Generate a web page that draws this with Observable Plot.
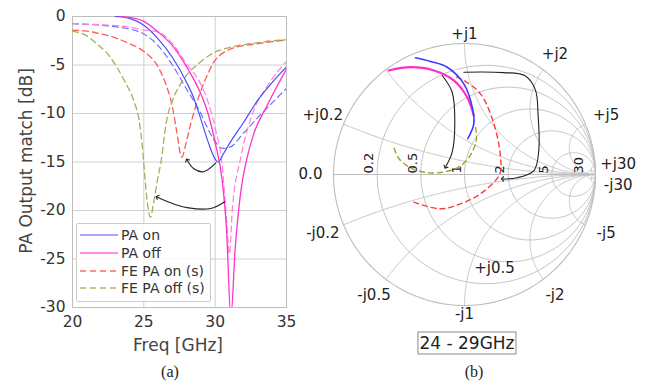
<!DOCTYPE html>
<html><head><meta charset="utf-8">
<script src="https://cdn.jsdelivr.net/npm/d3@7"></script>
<script src="https://cdn.jsdelivr.net/npm/@observablehq/plot@0.6"></script>
<style>
body{margin:0;background:#fff;}
#root{position:relative;width:645px;height:382px;overflow:hidden;font-family:"DejaVu Sans",sans-serif;color:#333;background:#fff;}
#root svg{position:absolute;top:0;}
.t{position:absolute;white-space:nowrap;transform:translate(-50%,-50%);line-height:1;}
</style></head><body><div id="root"></div>
<script>
// ---------- Panel (a): PA output match vs frequency ----------
const xTicks = [20, 25, 30, 35];
const yTicks = [0, -5, -10, -15, -20, -25, -30];

const paOnF  = [23.0, 23.5, 24, 25, 26, 27, 28, 28.5, 29, 29.5, 30, 30.2, 30.6, 31, 32, 33, 34, 35];
const paOnDb = [0, -0.05, -0.2, -0.9, -2.3, -4.2, -6.8, -8.4, -10.6, -12.9, -14.7, -15.0, -14.1, -13.1, -10.9, -8.6, -6.8, -5.2];

const paOnBF  = [20, 21, 22, 23, 24, 25, 26, 27, 28, 29, 29.5, 30, 30.5, 31, 32, 33, 34, 35];
const paOnBDb = [-0.75, -0.8, -0.9, -1.05, -1.3, -1.8, -3.0, -5.0, -7.5, -10.0, -11.6, -12.9, -13.6, -13.5, -12.0, -10.4, -8.9, -7.4];

const paOffF  = [23.4, 24, 25, 26, 27, 28, 29, 29.5, 30, 30.5, 30.8, 31.1, 31.4, 31.8, 32.2, 32.7, 33.6, 34.3, 35];
const paOffDb = [0, -0.1, -0.5, -1.6, -3.0, -5.2, -8.0, -10.0, -13.0, -17.0, -22.0, -31.0, -24.0, -18.0, -14.8, -12.1, -9.3, -7.3, -5.4];

const paOffBF  = [20, 22, 24, 25, 26, 27, 28, 29, 29.5, 30, 30.5, 30.8, 31.0, 31.2, 31.8, 32.7, 33.6, 35];
const paOffBDb = [-0.75, -0.85, -1.1, -1.4, -1.6, -2.8, -4.9, -7.0, -8.8, -11.5, -15.5, -21.0, -24.5, -20.0, -14.5, -9.7, -7.3, -4.6];

const feOnF  = [20, 21, 22, 23, 24, 25, 26, 26.5, 27, 27.3, 27.65, 28.0, 28.3, 28.8, 29.4, 30, 30.5, 31, 32, 33, 34, 35];
const feOnDb = [-1.4, -1.5, -1.8, -2.2, -2.8, -3.6, -5.2, -6.8, -9.3, -11.8, -14.5, -12.8, -11.0, -8.5, -6.2, -4.5, -3.8, -3.4, -3.0, -2.8, -2.6, -2.4];

const feOffF  = [20, 21, 21.7, 22.5, 23.1, 23.7, 24.3, 24.7, 24.9, 25.1, 25.3, 25.47, 25.65, 25.95, 26.2, 26.6, 27.0, 27.6, 28.2, 28.8, 29.5, 30.1, 31, 32, 33, 34, 35];
const feOffDb = [-1.5, -2.0, -2.8, -3.9, -5.2, -6.8, -8.7, -11.0, -13.5, -17.0, -19.8, -20.7, -19.5, -16.9, -15.0, -10.7, -8.7, -6.9, -5.7, -4.9, -4.1, -3.6, -3.2, -2.9, -2.7, -2.5, -2.4];

const arrow1F = [30.05, 29.2, 28.5, 28.03];
const arrow1Db = [-15.1, -16.0, -15.7, -14.8];
const arrow2F = [30.67, 29.67, 28.03, 26.87, 25.93];
const arrow2Db = [-19.1, -19.8, -19.7, -19.2, -18.6];

const legendNames = ["PA on", "PA off", "FE PA on (s)", "FE PA off (s)"];

// ---------- Panel (b): Smith chart (reflection coefficient, re / im) ----------
const paOnRe = [-0.374, -0.26, -0.132, -0.005, 0.059, 0.071, 0.025];
const paOnIm = [0.891, 0.863, 0.819, 0.692, 0.514, 0.387, 0.273];
const paOffRe = [-0.578, -0.412, -0.234, -0.082, 0.020, 0.071];
const paOffIm = [0.794, 0.819, 0.794, 0.718, 0.590, 0.450];
const feOnRe = [-0.06, -0.005, 0.122, 0.224, 0.275, 0.267, 0.122, -0.031, -0.183, -0.387];
const feOnIm = [0.743, 0.718, 0.616, 0.387, 0.132, 0.0, -0.147, -0.224, -0.262, -0.211];
const feOffRe = [0.084, 0.09, 0.04, -0.04, -0.13, -0.26, -0.40, -0.50, -0.54];
const feOffIm = [0.36, 0.26, 0.14, 0.06, 0.025, 0.012, 0.045, 0.12, 0.21];
const arrowARe = [-0.17, -0.094, -0.074, -0.094, -0.145];
const arrowAIm = [0.756, 0.628, 0.399, 0.17, 0.056];
const arrowBRe = [-0.005, 0.30, 0.46, 0.54, 0.562, 0.567, 0.53, 0.40, 0.29];
const arrowBIm = [0.781, 0.778, 0.755, 0.65, 0.45, 0.183, 0.03, -0.025, -0.034];

const gridR = [0.2, 0.5, 1, 2, 5, 30];
const gridXv = [0.2, 0.5, 1, 2, 5, 30];
const outerLabelText = ["0.0", "+j0.2", "+j1", "+j2", "+j5", "+j30", "-j30", "-j5", "-j2", "-j1", "-j0.5", "-j0.2"];
const outerLabelX = [0, 0.2, 1, 2, 5, 30, -30, -5, -2, -1, -0.5, -0.2];
const realLabelText = ["0.2", "0.5", "1", "2", "5", "30"];
const realLabelR = [0.2, 0.5, 1, 2, 5, 30];
const extraLabelText = ["+j0.5"];
const extraLabelRe = [0.229];
const extraLabelIm = [-0.718];
const bandText = "24 - 29GHz";

// ---------- build ----------
const root = document.getElementById("root");
const pts = (F, D) => F.map((f, i) => ({f, db: D[i]}));
const fmt = d => String(d);

const leftSeries = [
  {d: pts(paOnBF, paOnBDb), stroke: "#6e6eff", dash: "6,4", w: 1.2},
  {d: pts(paOffBF, paOffBDb), stroke: "#ff7fdc", dash: "6,4", w: 1.2},
  {d: pts(feOnF, feOnDb), stroke: "#ff5a5a", dash: "6,4", w: 1.3},
  {d: pts(feOffF, feOffDb), stroke: "#a9ad55", dash: "6,4", w: 1.3},
  {d: pts(paOnF, paOnDb), stroke: "#4d4dff", dash: null, w: 1.2},
  {d: pts(paOffF, paOffDb), stroke: "#ff33cc", dash: null, w: 1.3}
];

const left = Plot.plot({
  width: 290, height: 382,
  marginLeft: 72, marginRight: 4, marginTop: 16, marginBottom: 75,
  style: {fontFamily: "DejaVu Sans", fontSize: "15.5px", color: "#333", background: "transparent", overflow: "visible"},
  x: {domain: [20, 35]},
  y: {domain: [-30, 0]},
  marks: [
    Plot.gridX(xTicks, {stroke: "#cfcfcf", strokeOpacity: 1}),
    Plot.gridY(yTicks, {stroke: "#cfcfcf", strokeOpacity: 1}),
    Plot.frame({stroke: "#bdbdbd"}),
    ...leftSeries.map(s => Plot.line(s.d, {x: "f", y: "db", stroke: s.stroke, strokeWidth: s.w,
      strokeDasharray: s.dash, curve: "monotone-x", clip: true})),
    Plot.line(pts(arrow1F, arrow1Db), {x: "f", y: "db", stroke: "#222", strokeWidth: 1.1, curve: "catmull-rom", markerEnd: "arrow"}),
    Plot.line(pts(arrow2F, arrow2Db), {x: "f", y: "db", stroke: "#222", strokeWidth: 1.1, curve: "catmull-rom", markerEnd: "arrow"}),
    Plot.axisX(xTicks, {tickSize: 0, tickPadding: 8, label: null, tickFormat: fmt}),
    Plot.axisY(yTicks, {tickSize: 0, tickPadding: 7, label: null, tickFormat: fmt})
  ]
});
left.style.left = "0px";
root.appendChild(left);

// Smith chart
const R = 131;
const gridPts = [];
gridR.forEach(r => {
  const c = r / (r + 1), rad = 1 / (r + 1);
  for (let a = 0; a <= 360; a += 2) gridPts.push({x: c + rad * Math.cos(a * Math.PI / 180), y: rad * Math.sin(a * Math.PI / 180), k: "r" + r});
});
gridXv.forEach(xv => [xv, -xv].forEach(x => {
  for (let i = 0; i <= 300; i++) {
    let p;
    if (i === 300) p = {x: 1, y: 0};
    else {
      const r = Math.tan(i / 300 * Math.PI / 2);
      const den = (r + 1) * (r + 1) + x * x;
      p = {x: (r * r - 1 + x * x) / den, y: 2 * x / den};
    }
    p.k = "x" + x;
    gridPts.push(p);
  }
}));
const outer = d3.range(0, 361, 1).map(a => ({x: Math.cos(a * Math.PI / 180), y: Math.sin(a * Math.PI / 180)}));
const gm = (re, im) => re.map((x, i) => ({x, y: im[i]}));

const outerLabels = outerLabelText.map((t, i) => {
  const xv = outerLabelX[i];
  const gx = (xv * xv - 1) / (xv * xv + 1), gy = 2 * xv / (xv * xv + 1);
  const th = Math.atan2(gy, gx);
  const dist = (140 + 14 * Math.sqrt(Math.abs(Math.cos(th)))) / R;
  return {x: dist * Math.cos(th), y: dist * Math.sin(th), t};
});

const right = Plot.plot({
  width: 355, height: 382, margin: 0,
  x: {domain: [-174 / R, 181 / R], axis: null},
  y: {domain: [-208 / R, 174 / R], axis: null},
  style: {fontFamily: "DejaVu Sans", fontSize: "15px", color: "#222", background: "transparent", overflow: "visible"},
  marks: [
    Plot.line(gridPts, {x: "x", y: "y", z: "k", stroke: "#c4c4c4", strokeWidth: 1}),
    Plot.line(outer, {x: "x", y: "y", stroke: "#bdbdbd", strokeWidth: 1.1}),
    Plot.ruleY([0], {x1: -1, x2: 1, stroke: "#bdbdbd", strokeWidth: 1.1}),
    Plot.text(realLabelR, {x: r => (r - 1) / (r + 1), y: 0, text: (d, i) => realLabelText[i], rotate: -90,
      textAnchor: "start", dx: -8, dy: -1, fontSize: 13, fill: "#222"}),
    Plot.line(gm(feOffRe, feOffIm), {x: "x", y: "y", stroke: "#9da535", strokeWidth: 1.4, strokeDasharray: "5,4", curve: "catmull-rom"}),
    Plot.line(gm(feOnRe, feOnIm), {x: "x", y: "y", stroke: "#ff3b3b", strokeWidth: 1.4, strokeDasharray: "5,4", curve: "catmull-rom"}),
    Plot.line(gm(paOffRe, paOffIm), {x: "x", y: "y", stroke: "#ff2ec8", strokeWidth: 2.2, curve: "catmull-rom"}),
    Plot.line(gm(paOnRe, paOnIm), {x: "x", y: "y", stroke: "#3a3aff", strokeWidth: 1.6, curve: "catmull-rom"}),
    Plot.line(gm(arrowARe, arrowAIm), {x: "x", y: "y", stroke: "#222", strokeWidth: 1.1, curve: "catmull-rom", markerEnd: "arrow"}),
    Plot.line(gm(arrowBRe, arrowBIm), {x: "x", y: "y", stroke: "#222", strokeWidth: 1.1, curve: "catmull-rom", markerEnd: "arrow"}),
    Plot.text(outerLabels, {x: "x", y: "y", text: "t", fill: "#222", fontSize: 15}),
    Plot.text(extraLabelText, {x: (d, i) => extraLabelRe[i], y: (d, i) => extraLabelIm[i], text: d => d, fill: "#222", fontSize: 15})
  ]
});
right.style.left = "290px";
root.appendChild(right);

// HTML texts (axis titles, legend, captions)
function addText(txt, x, y, css) {
  const d = document.createElement("div");
  d.className = "t";
  d.textContent = txt;
  d.style.left = x + "px"; d.style.top = y + "px";
  Object.assign(d.style, css || {});
  root.appendChild(d);
  return d;
}
addText("PA Output match [dB]", 26, 161, {fontSize: "17px", transform: "translate(-50%,-50%) rotate(-90deg)", color: "#444"});
addText("Freq [GHz]", 178, 345, {fontSize: "17px", color: "#444"});
addText("(a)", 170, 372, {fontSize: "16px", fontFamily: "'Liberation Serif','DejaVu Serif',serif", color: "#222"});
addText("(b)", 474, 372, {fontSize: "16px", fontFamily: "'Liberation Serif','DejaVu Serif',serif", color: "#222"});

const box = addText(bandText, 467, 343, {fontSize: "17px", color: "#222", border: "1px solid #8a8a8a", padding: "2px 1px", background: "#fff"});

// legend
const leg = document.createElement("div");
Object.assign(leg.style, {position: "absolute", left: "76px", top: "223px", width: "133px", height: "77px",
  border: "1px solid #cccccc", borderRadius: "2px", background: "rgba(255,255,255,0.85)"});
root.appendChild(leg);
const legStyles = [
  {stroke: "#8a8aff", dash: null}, {stroke: "#ff66dd", dash: null},
  {stroke: "#ff6b6b", dash: "6,4"}, {stroke: "#b3b76a", dash: "6,4"}
];
const legY = [11, 28.5, 46.5, 64];
legendNames.forEach((n, i) => {
  const s = document.createElementNS("http://www.w3.org/2000/svg", "svg");
  s.setAttribute("width", 38); s.setAttribute("height", 6);
  Object.assign(s.style, {position: "absolute", left: "3px", top: (legY[i] - 3) + "px"});
  const l = document.createElementNS("http://www.w3.org/2000/svg", "line");
  l.setAttribute("x1", 0); l.setAttribute("x2", 38); l.setAttribute("y1", 3); l.setAttribute("y2", 3);
  l.setAttribute("stroke", legStyles[i].stroke); l.setAttribute("stroke-width", 1.4);
  if (legStyles[i].dash) l.setAttribute("stroke-dasharray", legStyles[i].dash);
  s.appendChild(l); leg.appendChild(s);
  const t = document.createElement("div");
  t.textContent = n;
  Object.assign(t.style, {position: "absolute", left: "44px", top: legY[i] + "px", transform: "translateY(-50%)",
    fontSize: "14px", lineHeight: "1", whiteSpace: "nowrap", color: "#333"});
  leg.appendChild(t);
});
</script></body></html>
